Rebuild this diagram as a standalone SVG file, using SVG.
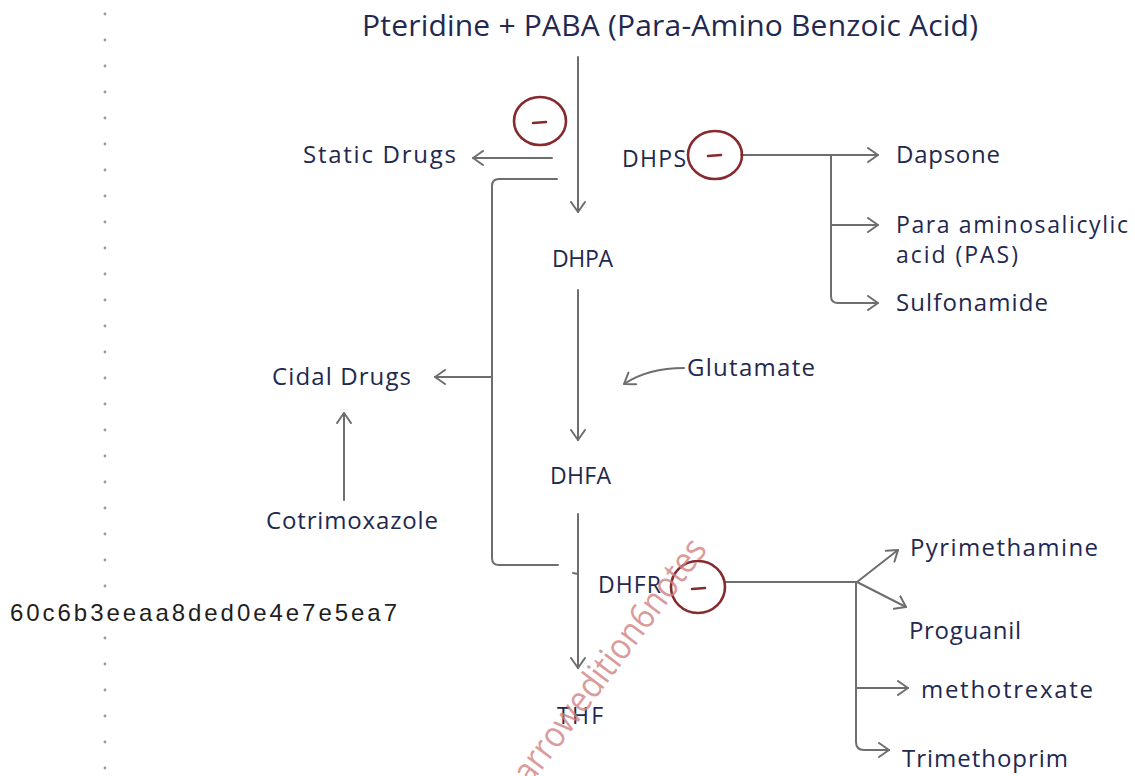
<svg xmlns="http://www.w3.org/2000/svg" width="1135" height="776" viewBox="0 0 1135 776">
  <style>
    .lbl { font-family: "Open Sans", "Liberation Sans", sans-serif; fill: #22284f; font-size: 24px; }
    .cap { font-family: "Open Sans", "Liberation Sans", sans-serif; fill: #22284f; font-size: 23px; }
    .title { font-size: 30px; }
    .small { font-size: 23px; }
    .wire { fill: none; stroke: #6e6e6e; stroke-width: 2; stroke-linecap: round; stroke-linejoin: round; }
    .arrow { marker-end: url(#chev); }
    .inhib { fill: none; stroke: #862a2e; stroke-width: 2.6; }
    .minus { stroke: #862a2e; stroke-width: 2.6; stroke-linecap: round; }
    .dot { fill: #9a9a9a; }
  </style>
  <defs>
    <marker id="chev" viewBox="0 0 12 16" refX="11" refY="8" markerWidth="12" markerHeight="16" markerUnits="userSpaceOnUse" orient="auto">
      <path d="M1,1 L11,8 L1,15" fill="none" stroke="#6e6e6e" stroke-width="2" stroke-linecap="round" stroke-linejoin="round"/>
    </marker>
  </defs>

  <rect width="1135" height="776" fill="#ffffff"/>

  <!-- dotted page margin -->
  <g id="margin">
    <circle class="dot" cx="105" cy="14" r="1.4"/>
    <circle class="dot" cx="105" cy="40" r="1.4"/>
    <circle class="dot" cx="105" cy="66" r="1.4"/>
    <circle class="dot" cx="105" cy="92" r="1.4"/>
    <circle class="dot" cx="105" cy="118" r="1.4"/>
    <circle class="dot" cx="105" cy="144" r="1.4"/>
    <circle class="dot" cx="105" cy="170" r="1.4"/>
    <circle class="dot" cx="105" cy="196" r="1.4"/>
    <circle class="dot" cx="105" cy="222" r="1.4"/>
    <circle class="dot" cx="105" cy="248" r="1.4"/>
    <circle class="dot" cx="105" cy="274" r="1.4"/>
    <circle class="dot" cx="105" cy="300" r="1.4"/>
    <circle class="dot" cx="105" cy="326" r="1.4"/>
    <circle class="dot" cx="105" cy="352" r="1.4"/>
    <circle class="dot" cx="105" cy="378" r="1.4"/>
    <circle class="dot" cx="105" cy="404" r="1.4"/>
    <circle class="dot" cx="105" cy="430" r="1.4"/>
    <circle class="dot" cx="105" cy="456" r="1.4"/>
    <circle class="dot" cx="105" cy="482" r="1.4"/>
    <circle class="dot" cx="105" cy="508" r="1.4"/>
    <circle class="dot" cx="105" cy="534" r="1.4"/>
    <circle class="dot" cx="105" cy="560" r="1.4"/>
    <circle class="dot" cx="105" cy="586" r="1.4"/>
    <circle class="dot" cx="105" cy="638" r="1.4"/>
    <circle class="dot" cx="105" cy="664" r="1.4"/>
    <circle class="dot" cx="105" cy="690" r="1.4"/>
    <circle class="dot" cx="105" cy="716" r="1.4"/>
    <circle class="dot" cx="105" cy="742" r="1.4"/>
    <circle class="dot" cx="105" cy="768" r="1.4"/>
  </g>

  <text x="10" y="621" font-family="'Liberation Sans', Arial, sans-serif" font-size="24" fill="#1e1e1e" textLength="387">60c6b3eeaa8ded0e4e7e5ea7</text>

  <!-- connectors -->
  <g id="connectors">
    <!-- main pathway -->
    <path class="wire arrow" d="M578,57 L578,212"/>
    <path class="wire arrow" d="M578,290 L578,440"/>
    <path class="wire arrow" d="M578,514 L578,668"/>
    <path class="wire" d="M573,573 L578,574"/>
    <!-- static / cidal -->
    <path class="wire arrow" d="M552,158 L473,158"/>
    <path class="wire" d="M557,179 L499,179 Q492,179 492,186 L492,558 Q492,565 499,565 L558,565"/>
    <path class="wire arrow" d="M492,377 L435,377"/>
    <path class="wire arrow" d="M344,500 L344,413"/>
    <!-- glutamate -->
    <path class="wire arrow" d="M684,368 Q648,368 624,384"/>
    <!-- DHPS inhibitors -->
    <path class="wire arrow" d="M741,155 L878,155"/>
    <path class="wire arrow" d="M831,225 L878,225"/>
    <path class="wire arrow" d="M831,155 L831,296 Q831,303 838,303 L878,303"/>
    <!-- DHFR inhibitors -->
    <path class="wire" d="M725,582 L857,582"/>
    <path class="wire arrow" d="M857,582 L898,550"/>
    <path class="wire arrow" d="M857,582 L906,607"/>
    <path class="wire arrow" d="M856,688 L908,688"/>
    <path class="wire arrow" d="M856,582 L856,742 Q856,750 864,750 L889,750"/>
  </g>

  <g id="substrate">
    <text class="lbl title" x="670" y="36" text-anchor="middle" textLength="616">Pteridine + PABA (Para-Amino Benzoic Acid)</text>
  </g>

  <g id="inhibit-top">
    <ellipse class="inhib" cx="540" cy="121" rx="26" ry="24"/>
    <line class="minus" x1="533" y1="123" x2="546" y2="122"/>
  </g>

  <g id="static-drugs">
    <text class="lbl" x="303" y="163" textLength="153">Static Drugs</text>
  </g>

  <g id="dhps">
    <text class="cap" x="622" y="167" textLength="64">DHPS</text>
    <ellipse class="inhib" cx="715" cy="155" rx="27" ry="24"/>
    <line class="minus" x1="708" y1="156" x2="721" y2="155"/>
  </g>

  <g id="dapsone">
    <text class="lbl" x="896" y="163" textLength="104">Dapsone</text>
  </g>
  <g id="pas">
    <text class="lbl small" x="896" y="233" textLength="232">Para aminosalicylic</text>
    <text class="lbl small" x="896" y="263" textLength="122">acid (PAS)</text>
  </g>
  <g id="sulfonamide">
    <text class="lbl" x="896" y="311" textLength="152">Sulfonamide</text>
  </g>

  <g id="dhpa">
    <text class="cap" x="552" y="267" textLength="61">DHPA</text>
  </g>

  <g id="glutamate">
    <text class="lbl" x="687" y="376" textLength="128">Glutamate</text>
  </g>

  <g id="cidal-drugs">
    <text class="lbl" x="272" y="385" textLength="139">Cidal Drugs</text>
  </g>

  <g id="cotrimoxazole">
    <text class="lbl" x="266" y="529" textLength="172">Cotrimoxazole</text>
  </g>

  <g id="dhfa">
    <text class="cap" x="550" y="484" textLength="61">DHFA</text>
  </g>

  <g id="dhfr">
    <text class="cap" x="598" y="593" textLength="63">DHFR</text>
    <ellipse class="inhib" cx="698" cy="587" rx="27" ry="26"/>
    <line class="minus" x1="692" y1="589" x2="705" y2="588"/>
  </g>

  <g id="thf">
    <text class="cap" x="557" y="724" textLength="46">THF</text>
  </g>

  <g id="pyrimethamine">
    <text class="lbl" x="910" y="556" textLength="188">Pyrimethamine</text>
  </g>
  <g id="proguanil">
    <text class="lbl" x="909" y="639" textLength="112">Proguanil</text>
  </g>
  <g id="methotrexate">
    <text class="lbl" x="921" y="698" textLength="172">methotrexate</text>
  </g>
  <g id="trimethoprim">
    <text class="lbl" x="902" y="767" textLength="166">Trimethoprim</text>
  </g>

  <!-- diagonal watermark -->
  <text x="530" y="786" transform="rotate(-53 530 786)" font-family="'Open Sans', 'Liberation Sans', sans-serif" font-size="36" fill="#d27f7f" fill-opacity="0.8" textLength="296" lengthAdjust="spacingAndGlyphs">arrowedition6notes</text>
</svg>
